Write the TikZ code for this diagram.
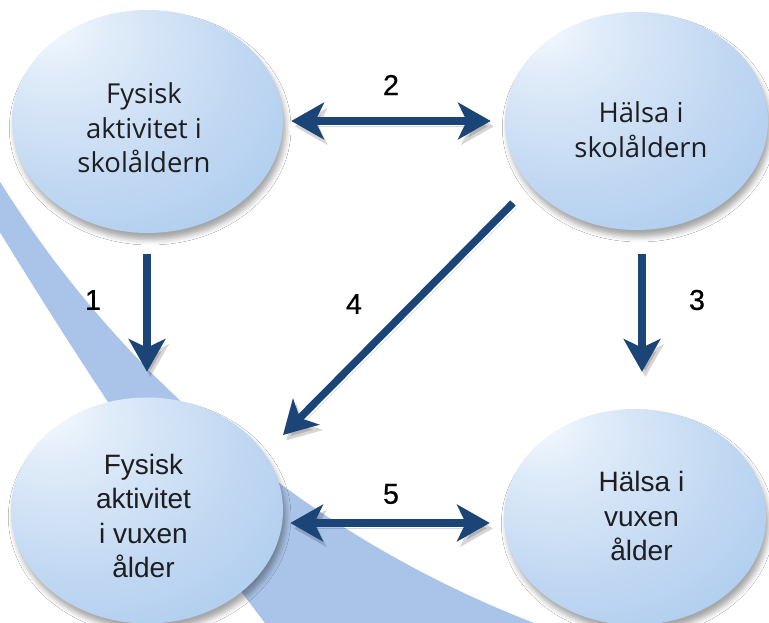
\documentclass[tikz,border=0pt]{standalone}
\usepackage{fontspec}
\setmainfont{Liberation Sans}
\newfontfamily\topfont{Open Sans}
\newfontfamily\numfont[FakeBold=0.6]{Liberation Sans}
\usetikzlibrary{shapes.geometric,arrows.meta,calc,shadows.blur}
\definecolor{navy}{RGB}{27,69,118}
\definecolor{swoosh}{RGB}{170,195,232}
\definecolor{shA}{RGB}{250,252,255}
\definecolor{shB}{RGB}{224,236,249}
\definecolor{shC}{RGB}{192,215,242}
\definecolor{shD}{RGB}{160,198,236}
\definecolor{shE}{RGB}{136,182,229}
\definecolor{txt}{RGB}{30,30,32}
\pgfdeclareradialshading{ellshade}{\pgfpoint{-20bp}{24bp}}{color(0bp)=(shA); color(10bp)=(shB); color(30bp)=(shC); color(52bp)=(shD); color(75bp)=(shE)}
\begin{document}
\begin{tikzpicture}[x=0.75pt,y=-0.75pt,
  ell/.style={ellipse, inner sep=0pt, shade, shading=ellshade,
    blur shadow={shadow xshift=2pt, shadow yshift=-5pt, shadow blur radius=4pt, shadow opacity=35}},
  lbl/.style={font=\numfont\fontsize{21.5}{24}\selectfont, text=black, inner sep=0pt},
  tt/.style={font=\topfont\fontsize{20.6}{26}\selectfont, align=center, text=txt, inner sep=0pt},
  bt/.style={font=\fontsize{21}{25.75}\selectfont, align=center, text=txt, inner sep=0pt},
  tip/.tip={Stealth[length=24.5pt,width=27.5pt,inset=6.5pt]},
  arrsh/.style={preaction={draw=black, opacity=0.16, transform canvas={xshift=2.5pt,yshift=-4pt}}},
  arr/.style={line width=5.6pt, draw=navy, arrsh, -tip},
  darr/.style={line width=5.6pt, draw=navy, arrsh, tip-tip},
]
\useasboundingbox (0,0) rectangle (769,623);
\begin{scope}
\clip (0,0) rectangle (769,623);
\fill[white] (0,0) rectangle (769,623);
% background swoosh
\fill[swoosh] plot[domain=150:109, samples=60] ({930+1097*cos(\x)},{-400+1097*sin(\x)})
  -- (278,640) .. controls (170,500) and (82,367) .. (-18,203) -- cycle;
% ellipses
\node[ell, minimum width=203.25pt, minimum height=167.25pt] (tl) at (147.5,121.5) {};
\node[ell, minimum width=197.25pt, minimum height=163.5pt] (tr) at (636.5,121) {};
\node[ell, minimum width=204pt, minimum height=169.5pt] (bl) at (147,510.5) {};
\node[ell, minimum width=196.5pt, minimum height=162pt] (br) at (635,517) {};
\end{scope}
% texts
\node[tt] (tlt) at (144,128) {Fysisk\\aktivitet i\\skolåldern};
\node[tt] (trt) at (641,130) {Hälsa i\\skolåldern};
\node[bt] (blt) at (143.5,516) {Fysisk\\aktivitet\\i vuxen\\ålder};
\node[bt] (brt) at (641.5,516) {Hälsa i\\vuxen\\ålder};
% arrows
\draw[darr] ($(tl.east)+(8,-0.5)$) -- ($(tr.west)+(-14,0)$);
\draw[darr] ($(bl.east)+(7,12.5)$) -- ($(br.west)+(-14,6)$);
\draw[arr] ($(tl.south)+(-0.5,21)$) -- ($(bl.north)+(0,-25.5)$);
\draw[arr] ($(tr.south)+(5.5,24)$) -- ($(br.north)+(7,-37)$);
\draw[arr] ($(tr.center)+(-123.5,82)$) -- ($(bl.center)+(136,-75.5)$);
% labels
\node[lbl] (n2) at (391,85) {2};
\node[lbl] (n1) at (93,300) {1};
\node[lbl] (n4) at (354,304) {4};
\node[lbl] (n3) at (697,300) {3};
\node[lbl] (n5) at (391,494) {5};
\end{tikzpicture}
\end{document}
